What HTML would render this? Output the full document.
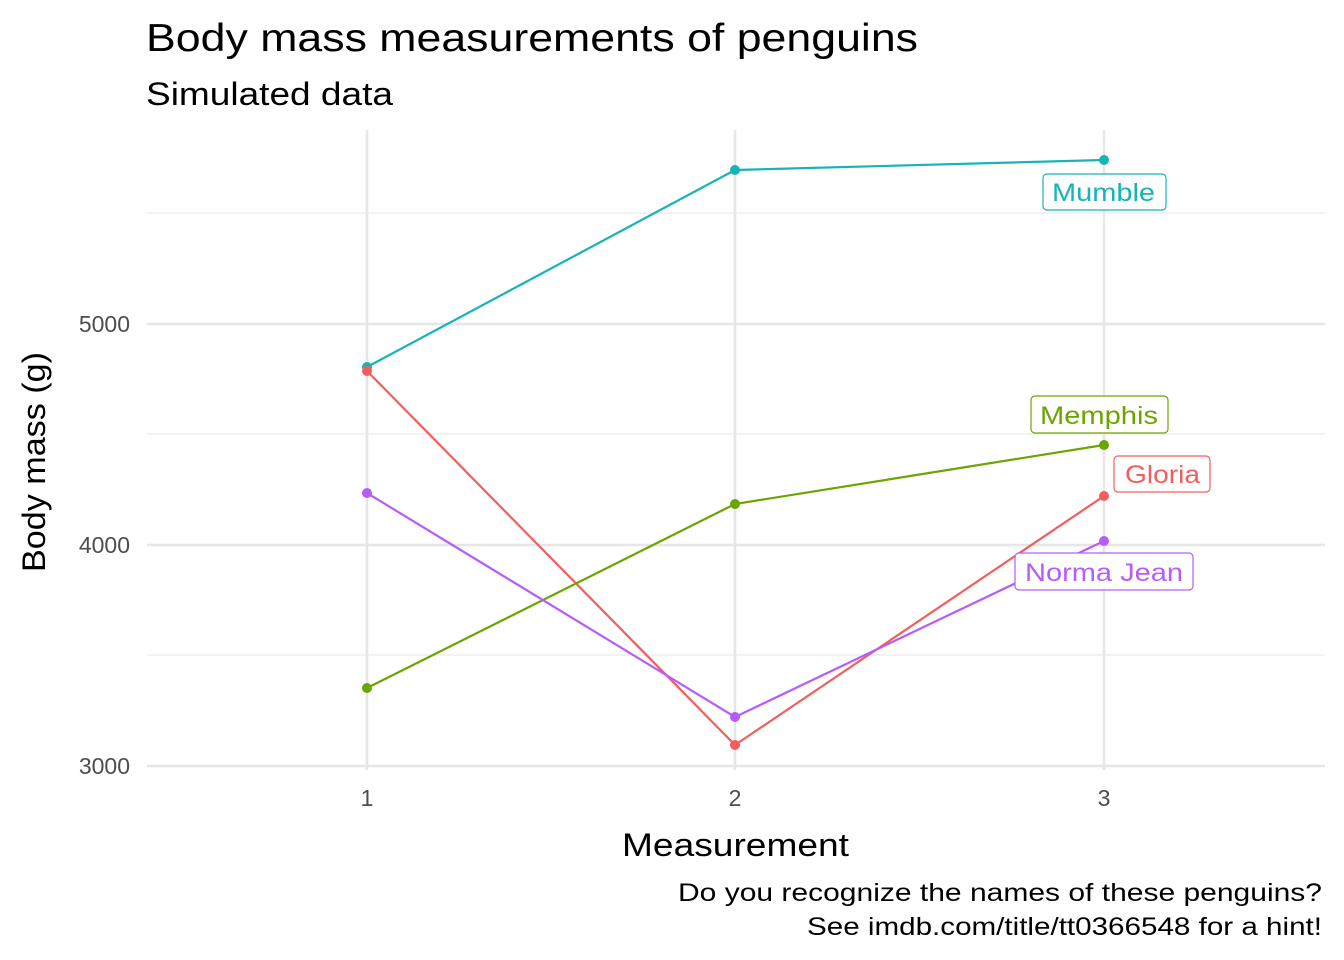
<!DOCTYPE html>
<html><head><meta charset="utf-8"><style>
body{margin:0;background:#fff}
svg{display:block;font-family:"Liberation Sans",Arial,sans-serif}
</style></head><body>
<svg width="1344" height="960" viewBox="0 0 1344 960" xmlns="http://www.w3.org/2000/svg">
<rect width="1344" height="960" fill="#fff"/>
<g stroke="#ebebeb" stroke-width="1.3">
<line x1="147" y1="655" x2="1325" y2="655"/>
<line x1="147" y1="434" x2="1325" y2="434"/>
<line x1="147" y1="213" x2="1325" y2="213"/>
</g>
<g stroke="#e6e6e6" stroke-width="2.6">
<line x1="147" y1="766" x2="1325" y2="766"/>
<line x1="147" y1="545" x2="1325" y2="545"/>
<line x1="147" y1="324" x2="1325" y2="324"/>
<line x1="367" y1="130" x2="367" y2="770"/>
<line x1="735" y1="130" x2="735" y2="770"/>
<line x1="1104" y1="130" x2="1104" y2="770"/>
</g>
<g fill="none" stroke-width="2.2">
<polyline stroke="#17B3B8" points="367,367 735,170 1104,160"/>
<polyline stroke="#F35E5C" points="367,371 735,745 1104,496"/>
<polyline stroke="#6CA400" points="367,688 735,504 1104,445"/>
<polyline stroke="#B65CFF" points="367,493 735,717 1104,541"/>
</g>
<g fill="#17B3B8"><circle cx="367" cy="367" r="5"/><circle cx="735" cy="170" r="5"/><circle cx="1104" cy="160" r="5"/></g>
<g fill="#F35E5C"><circle cx="367" cy="371" r="5"/><circle cx="735" cy="745" r="5"/><circle cx="1104" cy="496" r="5"/></g>
<g fill="#6CA400"><circle cx="367" cy="688" r="5"/><circle cx="735" cy="504" r="5"/><circle cx="1104" cy="445" r="5"/></g>
<g fill="#B65CFF"><circle cx="367" cy="493" r="5"/><circle cx="735" cy="717" r="5"/><circle cx="1104" cy="541" r="5"/></g>
<g font-size="25">
<rect x="1043" y="174" width="123" height="36" rx="4" fill="#fff" stroke="#17B3B8" stroke-width="1.2"/>
<text x="1052" y="201" fill="#17B3B8" textLength="103" lengthAdjust="spacingAndGlyphs">Mumble</text>
<rect x="1031" y="396" width="137" height="37" rx="4" fill="#fff" stroke="#6CA400" stroke-width="1.2"/>
<text x="1040" y="424" fill="#6CA400" textLength="118" lengthAdjust="spacingAndGlyphs">Memphis</text>
<rect x="1114" y="456" width="96" height="36" rx="4" fill="#fff" stroke="#F35E5C" stroke-width="1.2"/>
<text x="1125" y="483" fill="#F35E5C" textLength="75" lengthAdjust="spacingAndGlyphs">Gloria</text>
<rect x="1015" y="553" width="178" height="37" rx="4" fill="#fff" stroke="#B65CFF" stroke-width="1.2"/>
<text x="1025" y="581" fill="#B65CFF" textLength="158" lengthAdjust="spacingAndGlyphs">Norma Jean</text>
</g>
<g font-size="23" fill="#4d4d4d">
<g text-anchor="end">
<text x="130" y="774">3000</text>
<text x="130" y="553">4000</text>
<text x="130" y="332">5000</text>
</g>
<g text-anchor="middle">
<text x="367" y="806">1</text>
<text x="735" y="806">2</text>
<text x="1104" y="806">3</text>
</g>
</g>
<text x="622" y="856" font-size="32" textLength="227" lengthAdjust="spacingAndGlyphs">Measurement</text>
<text transform="translate(45,572) rotate(-90)" font-size="32" textLength="220" lengthAdjust="spacingAndGlyphs">Body mass (g)</text>
<text x="146" y="51" font-size="39" textLength="772" lengthAdjust="spacingAndGlyphs">Body mass measurements of penguins</text>
<text x="146" y="105" font-size="32" textLength="247" lengthAdjust="spacingAndGlyphs">Simulated data</text>
<g font-size="25">
<text x="678" y="901" textLength="644" lengthAdjust="spacingAndGlyphs">Do you recognize the names of these penguins?</text>
<text x="807" y="935" textLength="515" lengthAdjust="spacingAndGlyphs">See imdb.com/title/tt0366548 for a hint!</text>
</g>
</svg>
</body></html>
